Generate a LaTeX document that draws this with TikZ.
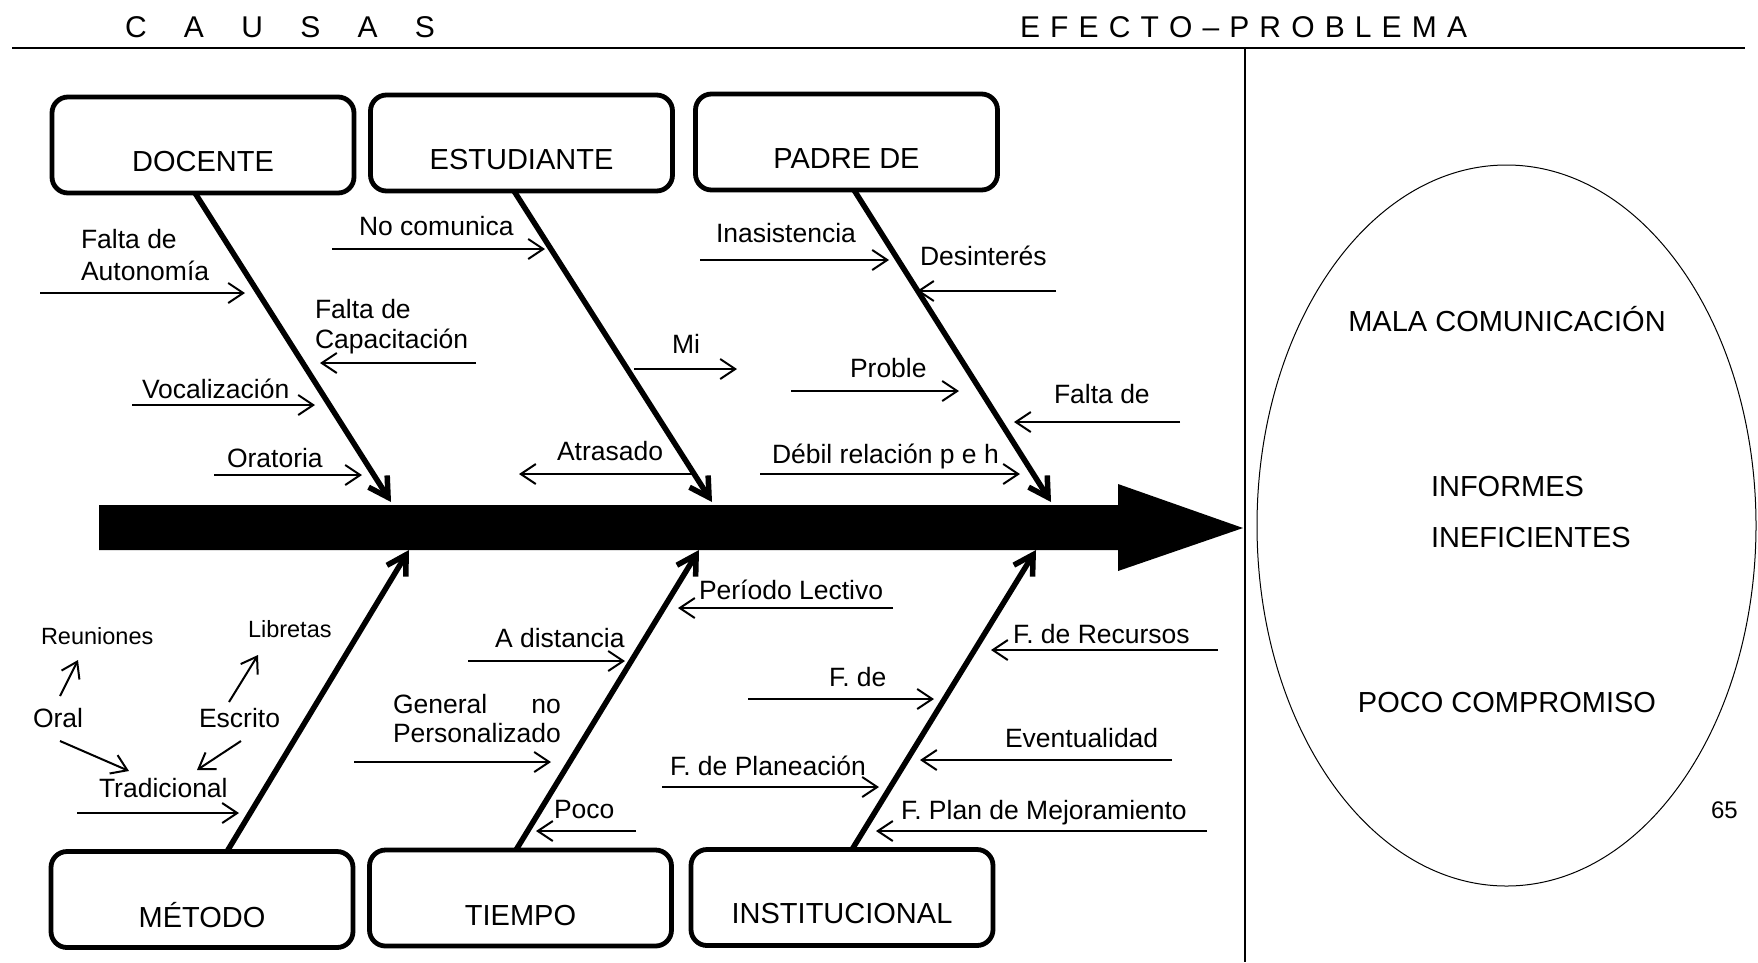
\documentclass[tikz,border=0pt]{standalone}
\usepackage{fontspec}
\setmainfont{Liberation Sans}
\usepackage{calc}
\usetikzlibrary{arrows.meta,shapes.geometric}
\newcommand\fsTitle{\fontsize{29pt}{34pt}\selectfont}
\newcommand\fsLbl{\fontsize{26.5pt}{31pt}\selectfont}
\newcommand\fsSmall{\fontsize{23.5pt}{28pt}\selectfont}
\newcommand\fsHead{\fontsize{30pt}{35pt}\selectfont}
\newcommand\fsPage{\fontsize{24pt}{29pt}\selectfont}
\begin{document}
\begin{tikzpicture}[x=1pt,y=-1pt,
  catbox/.style={draw, line width=4.8pt, rounded corners=16pt, minimum width=302pt, minimum height=96pt, inner sep=0pt, outer sep=0pt},
  txt/.style={inner sep=0pt, outer sep=0pt, anchor=base west},
  title/.style={inner sep=0pt, outer sep=0pt, anchor=base, font=\fsTitle},
  lbl/.style={txt, font=\fsLbl},
  small/.style={txt, font=\fsSmall},
  bone/.style={line width=5.5pt, -{Straight Barb[length=19pt,width=22pt]}},
  cause/.style={line width=2pt, -{Straight Barb[length=15pt,width=20pt]}},
  rule/.style={line width=2.4pt},
]
\useasboundingbox (0,0) rectangle (1758,962);
\fill[white] (0,0) rectangle (1758,962);

% header
\node[txt, font=\fsHead] (causas) at (125,37) {\makebox[310pt][s]{C\hfill A\hfill U\hfill S\hfill A\hfill S}};
\node[txt, font=\fsHead] (efecto) at (1020,37) {\makebox[447pt][s]{E\hfill F\hfill E\hfill C\hfill T\hfill O\hfill –\hfill P\hfill R\hfill O\hfill B\hfill L\hfill E\hfill M\hfill A}};
\coordinate (hl) at (12,48); \coordinate (hr) at (1745,48);
\draw[rule] (hl) -- (hr);
\coordinate (vt) at (1245,48); \coordinate (vb) at (1245,962);
\draw[rule] (vt) -- (vb);

% spine
\fill (99,505) -- (1118,505) -- (1118,484) -- (1243,528) -- (1118,571) -- (1118,550) -- (99,550) -- cycle;

% category boxes
\node[catbox] (docente) at (203,145) {};
\node[catbox] (estudiante) at (521.5,143) {};
\node[catbox] (padre) at (846.5,142) {};
\node[catbox] (metodo) at (202,899.5) {};
\node[catbox] (tiempo) at (520.5,898) {};
\node[catbox] (instit) at (842,897.5) {};
\node[title] (docenteT) at (203,171) {DOCENTE};
\node[title] (estudianteT) at (521.5,169) {ESTUDIANTE};
\node[title] (padreT) at (846.5,168) {PADRE DE};
\node[title] (metodoT) at (202,927) {MÉTODO};
\node[title] (tiempoT) at (520.5,925) {TIEMPO};
\node[title] (institT) at (842,923) {INSTITUCIONAL};

% bones
\coordinate (s1) at (391,502);
\coordinate (s2) at (712,502);
\coordinate (s3) at (1051,502);
\coordinate (s4) at (409,550);
\coordinate (s5) at (699,550);
\coordinate (s6) at (1036,550);
\draw[bone] ([xshift=-8pt]docente.south) -- (s1);
\draw[bone] ([xshift=-7.5pt]estudiante.south) -- (s2);
\draw[bone] ([xshift=7.5pt]padre.south) -- (s3);
\draw[bone] ([xshift=25pt]metodo.north) -- (s4);
\draw[bone] ([xshift=-4.5pt]tiempo.north) -- (s5);
\draw[bone] ([xshift=10pt]instit.north) -- (s6);

% cause arrows
\foreach \n/\xa/\ya/\xb/\yb in {
 c1/40/293/245/293, c2/476/363/320/363, c3/132/405/315/405, c4/214/475/362/475,
 c5/332/249/545/249, c6/692/474/519/474, c7/634/369/737/369, c8/700/260/889/260,
 c9/1056/291/917/291, c10/791/391/959/391, c11/1180/422/1014/422, c12/760/474/1020/474,
 c13/60/696/78/660, c14/229/702/258/655, c15/60/741/129/771, c16/241/741/197/770,
 c17/77/813/239/813, c18/468/661/625/661, c19/354/762/551/762, c20/636/831/536/831,
 c21/893/608/678/608, c22/1218/650/991/650, c23/748/699/934/699, c24/1172/760/920/760,
 c25/662/787/879/787, c26/1207/831/876/831}
{ \coordinate (\n-a) at (\xa,\ya); \coordinate (\n-b) at (\xb,\yb); \draw[cause] (\n-a) -- (\n-b); }

% labels
\node[lbl] (l1a) at (81,248) {Falta de};
\node[lbl] (l1b) at (81,280) {Autonomía};
\node[lbl] (l2a) at (315,318) {Falta de};
\node[lbl] (l2b) at (315,348) {Capacitación};
\node[lbl] (l3) at (142,398) {Vocalización};
\node[lbl] (l4) at (227,467) {Oratoria};
\node[lbl] (l5) at (359,235) {No comunica};
\node[lbl] (l6) at (557,460) {Atrasado};
\node[lbl] (l7) at (672,353) {Mi};
\node[lbl] (l8) at (716,242) {Inasistencia};
\node[lbl] (l9) at (920,265) {Desinterés};
\node[lbl] (l10) at (850,377) {Proble};
\node[lbl] (l11) at (1054,403) {Falta de};
\node[lbl] (l12) at (772,463) {Débil relación p e h};
\node[small] (l13) at (41,644) {Reuniones};
\node[small] (l14) at (248,637) {Libretas};
\node[lbl] (l15) at (33,727) {Oral};
\node[lbl] (l16) at (199,727) {Escrito};
\node[lbl] (l17) at (99,797) {Tradicional};
\node[lbl] (l18) at (495,647) {A distancia};
\node[lbl] (l19a) at (393,713) {\makebox[\widthof{Personalizado}][s]{General\hfill no}};
\node[lbl] (l19b) at (393,742) {Personalizado};
\node[lbl] (l20) at (554,818) {Poco};
\node[lbl] (l21) at (699,599) {Período Lectivo};
\node[lbl] (l22) at (1013,643) {F. de Recursos};
\node[lbl] (l23) at (829,686) {F. de};
\node[lbl] (l24) at (1005,747) {Eventualidad};
\node[lbl] (l25) at (670,775) {F. de Planeación};
\node[lbl] (l26) at (901,819) {F. Plan de Mejoramiento};

% effect
\node[ellipse, draw, line width=1pt, minimum width=499pt, minimum height=721pt, inner sep=0pt] (eff) at (1506.5,525.5) {};
\node[title] (e1) at (1507,331) {MALA COMUNICACIÓN};
\node[txt, font=\fsTitle] (e2) at (1431,496) {INFORMES};
\node[txt, font=\fsTitle] (e3) at (1431,547) {INEFICIENTES};
\node[title] (e4) at (1507,712) {POCO COMPROMISO};
\node[txt, font=\fsPage] (pg) at (1711,818) {65};
\end{tikzpicture}
\end{document}
